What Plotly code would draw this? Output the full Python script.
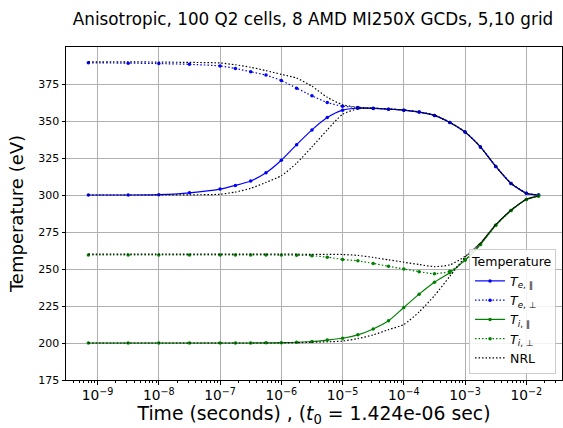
import plotly.graph_objects as go

# log10(time in seconds)
log_time = [-9.15, -8.5, -8.0, -7.5, -7.0, -6.75, -6.5, -6.25, -6.0, -5.75, -5.5, -5.25,
            -5.0, -4.75, -4.5, -4.25, -4.0, -3.75, -3.5, -3.25, -3.0, -2.75, -2.5, -2.25,
            -2.0, -1.8]
time_s = [10 ** v for v in log_time]

te_par = [300.0, 300.0, 300.2, 301.5, 304.0, 306.5, 309.5, 315.0, 323.5, 334.0, 344.0, 352.3,
          357.3, 358.6, 358.5, 358.0, 357.3, 356.0, 353.8, 349.0, 342.5, 332.5, 319.3, 307.8,
          301.2, 300.0]
te_perp = [389.3, 389.1, 388.8, 388.3, 387.2, 385.5, 383.3, 381.0, 377.3, 372.2, 367.0, 362.5,
           360.0, 359.2, 358.6, 358.0, 357.3, 356.0, 353.8, 349.0, 342.5, 332.5, 319.3, 307.8,
           301.2, 300.0]
nrl_te_par = [300.0, 300.0, 300.0, 300.1, 300.5, 302.0, 304.5, 308.5, 313.0, 321.5, 332.5, 344.0,
              354.5, 358.3, 358.6, 358.1, 357.4, 356.1, 353.9, 349.1, 342.6, 332.6, 319.4, 307.9,
              301.2, 300.0]
nrl_te_perp = [390.0, 390.0, 389.8, 389.6, 389.2, 388.0, 386.3, 384.0, 381.5, 379.0, 373.5, 366.0,
               361.0, 359.3, 358.7, 358.1, 357.4, 356.1, 353.9, 349.1, 342.6, 332.6, 319.4, 307.9,
               301.2, 300.0]

ti_par = [200.0, 200.0, 200.0, 200.0, 200.0, 200.0, 200.0, 200.1, 200.2, 200.5, 201.0, 202.0,
          203.2, 205.5, 209.5, 215.0, 224.0, 233.0, 241.0, 247.5, 256.0, 266.5, 279.5, 289.5,
          297.0, 299.3]
ti_perp = [259.5, 259.5, 259.5, 259.5, 259.5, 259.5, 259.5, 259.5, 259.4, 259.3, 259.0, 258.0,
           256.5, 255.5, 253.8, 251.8, 250.0, 248.2, 246.8, 248.5, 256.0, 266.5, 279.5, 289.5,
           297.0, 299.3]
nrl_ti_par = [200.0, 200.0, 200.0, 200.0, 200.0, 200.0, 200.0, 200.0, 200.0, 200.2, 200.5, 200.8,
              201.3, 203.0, 205.5, 209.0, 212.5, 221.0, 232.0, 245.0, 258.0, 267.5, 280.0, 289.8,
              297.1, 299.4]
nrl_ti_perp = [260.0, 260.0, 260.0, 260.0, 260.0, 260.0, 260.0, 260.0, 260.0, 260.0, 259.9, 259.9,
               259.8, 259.2, 257.8, 256.2, 254.6, 253.0, 251.6, 252.8, 258.5, 267.5, 280.0, 289.8,
               297.1, 299.4]

title_text = "Anisotropic, 100 Q2 cells, 8 AMD MI250X GCDs, 5,10 grid"
x_label = "Time (seconds) , (<i>t</i><sub>0</sub> = 1.424e-06 sec)"
y_label = "Temperature (eV)"
y_ticks = [175, 200, 225, 250, 275, 300, 325, 350, 375]

BLUE = "#0000ff"
GREEN = "#008000"
FONT = "DejaVu Sans"
DOT = "1.5px,2px"

fig = go.Figure()

def add(y, name, color, dash, marker=True, show=True):
    fig.add_trace(go.Scatter(
        x=time_s, y=y, name=name, showlegend=show,
        mode="lines+markers" if marker else "lines",
        line=dict(color=color, width=1.2, dash=dash, shape="spline", smoothing=0.6),
        marker=dict(size=3.5, color=color),
    ))

add(te_par, "<i>T</i><sub><i>e</i>, ∥</sub>", BLUE, "solid")
add(te_perp, "<i>T</i><sub><i>e</i>, ⊥</sub>", BLUE, DOT)
add(ti_par, "<i>T</i><sub><i>i</i>, ∥</sub>", GREEN, "solid")
add(ti_perp, "<i>T</i><sub><i>i</i>, ⊥</sub>", GREEN, DOT)
add(nrl_te_par, "NRL", "black", DOT, marker=False)
add(nrl_te_perp, "NRL", "black", DOT, marker=False, show=False)
add(nrl_ti_par, "NRL", "black", DOT, marker=False, show=False)
add(nrl_ti_perp, "NRL", "black", DOT, marker=False, show=False)

fig.update_layout(
    width=563, height=428,
    margin=dict(l=66, r=1, t=47, b=48),
    paper_bgcolor="white", plot_bgcolor="white",
    font=dict(family=FONT, size=11, color="black"),
    title=dict(text=title_text, x=0.556, xanchor="center", y=0.956, yanchor="middle",
               font=dict(size=16.8, family=FONT)),
    legend=dict(
        title=dict(text="Temperature", font=dict(size=12.5)),
        x=0.988, xanchor="right", y=0.018, yanchor="bottom",
        bgcolor="rgba(255,255,255,0.85)", bordercolor="#cccccc", borderwidth=1,
        font=dict(size=12.5, family=FONT), tracegroupgap=0, itemwidth=30,
    ),
)

fig.update_xaxes(
    type="log", range=[-9.515, -1.418], dtick=1, exponentformat="power",
    showgrid=True, gridcolor="#b0b0b0", gridwidth=0.8,
    showline=True, linecolor="black", linewidth=1, mirror=True,
    ticks="outside", ticklen=3.5, tickcolor="black",
    minor=dict(ticks="outside", ticklen=2, tickcolor="black", showgrid=False),
    tickfont=dict(size=11),
    title=dict(text=x_label, font=dict(size=18.8), standoff=1),
    zeroline=False, automargin=False,
)
fig.update_yaxes(
    range=[175, 400], tickvals=y_ticks,
    showgrid=True, gridcolor="#b0b0b0", gridwidth=0.8,
    showline=True, linecolor="black", linewidth=1, mirror=True,
    ticks="outside", ticklen=3.5, tickcolor="black",
    tickfont=dict(size=11),
    title=dict(text=y_label, font=dict(size=18), standoff=9),
    zeroline=False, automargin=False,
)

fig.write_html("out.html", config={"displayModeBar": False},
               post_script="document.body.style.margin='0';document.body.style.overflow='hidden';")
